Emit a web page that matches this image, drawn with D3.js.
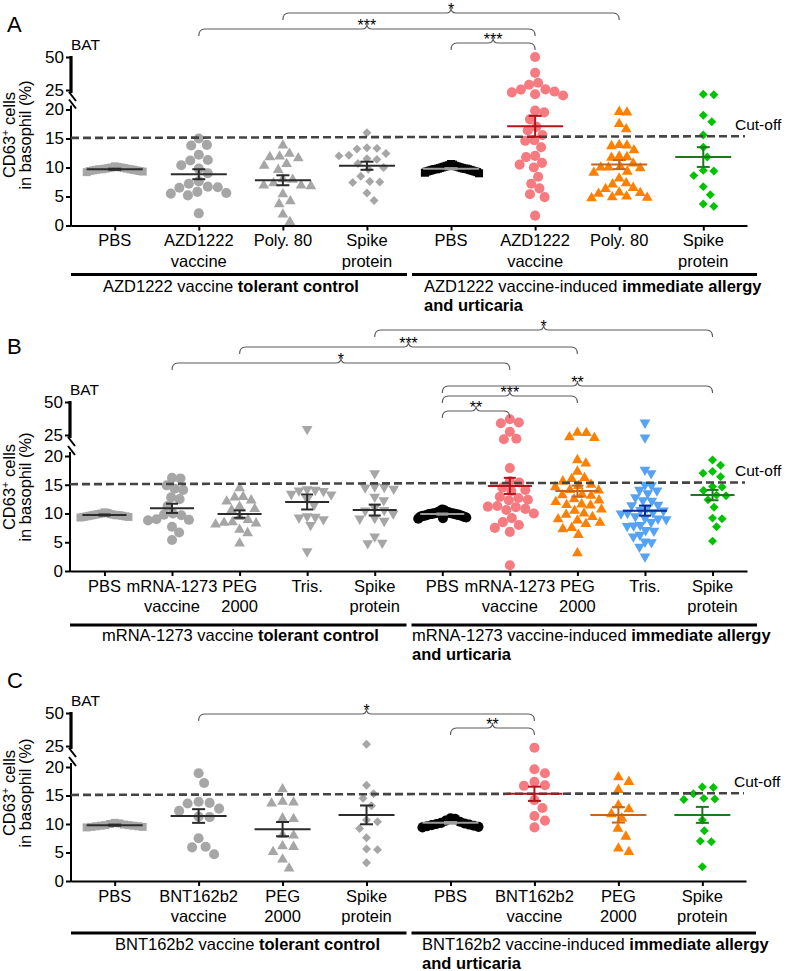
<!DOCTYPE html>
<html><head><meta charset="utf-8">
<script src="https://cdn.jsdelivr.net/npm/d3@7"></script>
<style>body{margin:0;background:#fff}svg{display:block}</style>
</head><body><svg id="c" width="789" height="971"></svg>
<script>
// ---------------- DATA ----------------
const yTicksLow = [0, 5, 10, 15, 20];
const yTicksHigh = [25, 50];
const cutoff = [15.1, 15.4];

// Panel A
const catsA = ["PBS","AZD1222\nvaccine","Poly. 80","Spike\nprotein","PBS","AZD1222\nvaccine","Poly. 80","Spike\nprotein"];
const valsA = [
  [9.2,9.3,9.4,9.4,9.5,9.5,9.6,9.6,9.7,9.7,9.7,9.8,9.8,9.9,9.9,10.0,10.0,10.1,10.2],
  [15.0,13.9,13.8,12.2,11.3,11.2,10.4,9.8,9.0,7.6,7.2,6.7,6.6,6.5,5.8,5.6,5.5,5.2,2.1],
  [13.8,12.4,11.9,11.8,11.6,10.6,10.3,9.6,8.0,7.9,7.3,6.9,6.9,6.8,5.4,4.2,3.7,1.9,0.6],
  [16.0,13.4,13.3,13.2,12.4,12.1,12.0,11.5,11.4,10.7,10.0,9.7,8.5,7.6,7.5,7.4,5.6,4.3],
  [9.0,9.1,9.2,9.3,9.3,9.4,9.4,9.5,9.5,9.6,9.6,9.7,9.7,9.7,9.8,9.8,9.8,9.9,9.9,10.0,10.0,10.1,10.1,10.2,10.2,10.3,10.3,10.4,10.5,10.6],
  [50,38,30.5,29,25.5,25.3,24.6,24.4,23.9,23.6,19.8,19.5,18.3,17.0,16.4,15.6,14.7,14.6,13.5,12.0,11.8,10.8,10.5,10.0,8.4,7.2,6.4,5.4,4.9,1.7],
  [19.6,19.5,17.5,16.6,13.9,13.8,13.7,13.0,11.9,11.8,11.7,10.7,10.1,10.0,10.0,9.9,9.3,9.1,8.1,7.3,7.1,6.5,6.3,5.7,5.6,5.5,5.0,4.9,4.8,4.7],
  [23.9,23.8,19.0,17.9,15.6,13.5,11.8,9.5,9.4,8.6,6.7,5.3,3.7,3.3]
];
const meansA = [9.7, 8.84, 7.8, 10.3, 9.8, 17.1, 10.5, 11.8];
const semsA  = [0.1, 0.86, 0.86, 0.7, 0.1, 1.8, 0.78, 1.7];
const sigA = [[4,5,"***"],[1,5,"***"],[2,6,"*"]];

// Panel B
const catsB = ["PBS","mRNA-1273\nvaccine","PEG\n2000","Tris.","Spike\nprotein","PBS","mRNA-1273\nvaccine","PEG\n2000","Tris.","Spike\nprotein"];
const valsB = [
  [9.3,9.4,9.4,9.5,9.5,9.6,9.6,9.7,9.7,9.7,9.8,9.8,9.9,9.9,10.0,10.1,10.2],
  [16.2,16.1,14.9,14.3,14.1,12.8,12.5,11.3,10.0,9.8,9.7,9.0,8.9,8.8,7.7,6.7,5.4],
  [14.4,12.9,12.8,12.3,12.1,11.2,10.8,10.6,9.4,8.9,8.5,8.4,8.3,8.1,7.2,6.6,4.8],
  [29.5,14.2,14.1,14.0,13.9,13.4,13.3,12.5,11.5,9.5,9.4,9.3,9.0,8.0,3.4],
  [17.0,14.7,14.6,14.5,14.3,12.9,12.3,11.0,10.6,10.5,10.0,9.2,9.1,8.7,6.0,4.9,4.8],
  [9.1,9.2,9.3,9.4,9.4,9.5,9.5,9.6,9.6,9.7,9.7,9.8,9.8,9.8,9.9,9.9,10.0,10.0,10.0,10.1,10.1,10.2,10.2,10.3,10.3,10.4,10.5,10.6,10.7,9.6,9.9,10.0],
  [36.9,34.5,33.9,27.5,24.1,24.0,17.9,15.6,15.4,14.5,14.1,13.9,12.9,12.7,12.4,12.3,11.3,11.2,11.1,10.8,10.6,10.0,9.2,8.5,8.0,7.5,6.8,1.0],
  [26.8,26.6,24.5,24.3,19.3,18.7,17.3,16.2,16.0,15.6,15.0,14.8,14.6,14.1,14.0,13.3,13.2,13.1,12.5,12.3,12.0,11.6,11.5,11.4,10.7,10.5,10.0,9.8,9.4,9.0,8.8,8.4,8.2,7.5,7.3,6.3,3.1],
  [34.3,24.4,17.6,17.0,15.0,14.9,14.1,14.0,13.5,12.8,12.3,12.2,11.5,11.4,11.0,10.6,10.5,10.2,10.1,10.0,9.5,9.2,9.1,9.0,8.5,8.0,7.9,7.8,7.1,7.0,6.3,6.0,5.1,5.0,4.2,2.5],
  [19.3,18.4,17.3,17.0,16.4,14.7,14.6,14.0,13.2,13.1,12.4,11.1,9.2,9.1,7.7,5.2]
];
const meansB = [9.74, 10.9, 9.9, 12.0, 10.6, 9.9, 14.8, 13.9, 10.5, 13.2];
const semsB  = [0.1, 0.8, 0.64, 1.3, 0.95, 0.1, 1.4, 0.95, 0.87, 0.9];
const sigB = [[5,6,"**"],[5,7,"***"],[5,9,"**"],[1,6,"*"],[2,7,"***"],[4,9,"*"]];

// Panel C
const catsC = ["PBS","BNT162b2\nvaccine","PEG\n2000","Spike\nprotein","PBS","BNT162b2\nvaccine","PEG\n2000","Spike\nprotein"];
const valsC = [
  [9.4,9.5,9.5,9.6,9.6,9.7,9.7,9.8,9.8,9.9,10.0,10.1,10.2],
  [18.9,17.2,13.9,13.7,13.6,12.7,12.3,11.3,11.2,7.5,6.0,5.9,4.7],
  [16.1,13.9,13.8,13.6,11.0,10.9,8.1,8.0,6.1,6.0,5.1,3.8,2.2],
  [26.3,16.8,15.3,14.5,13.2,10.7,10.4,9.2,7.6,5.6,5.5,3.2],
  [9.5,9.6,9.7,9.8,9.9,10.0,10.1,10.2,10.4,10.6,10.9,11.0,9.4],
  [24.6,19.6,18.9,17.4,16.8,16.7,14.2,12.8,11.4,10.6,9.4],
  [18.2,17.4,16.0,13.3,12.6,11.75,11.0,9.2,7.8,5.7,5.1],
  [16.5,16.4,15.3,14.5,14.4,14.3,10.7,8.8,7.0,6.9,2.5]
];
const meansC = [9.8, 11.4, 9.1, 11.6, 10.2, 15.3, 11.6, 11.6];
const semsC  = [0.1, 1.2, 1.25, 1.65, 0.15, 1.25, 1.35, 1.4];
const sigC = [[1,5,"*"],[4,5,"**"]];

const groupTexts = {
  A: ["AZD1222 vaccine ", "tolerant control", "AZD1222 vaccine-induced ", "immediate allergy", "and urticaria"],
  B: ["mRNA-1273 vaccine ", "tolerant control", "mRNA-1273 vaccine-induced ", "immediate allergy", "and urticaria"],
  C: ["BNT162b2 vaccine ", "tolerant control", "BNT162b2 vaccine-induced ", "immediate allergy", "and urticaria"]
};

// ---------------- STYLE / LAYOUT ----------------
const FONT = "Arial, 'Liberation Sans', Helvetica, sans-serif";
const GRAY = "#a6a6a6", DARK = "#2b2b2b", PINK = "#f57b80", ORANGE = "#ff8000",
      GREEN = "#00c400", BLUE = "#55a3f2", BLACK = "#000";
const DRED = "#b3141b", DORANGE = "#c4651c", DGREEN = "#1c7a1c", NAVY = "#0c2a8f", PBSBAR = "#9c9c9c";

const panels = [
  {letter:"A", cats:catsA, vals:valsA, means:meansA, sems:semsA, sig:sigA, txt:groupTexts.A,
   markers:["square","circle","triangle","diamond","square","circle","triangle","diamond"],
   fills:[GRAY,GRAY,GRAY,GRAY,BLACK,PINK,ORANGE,GREEN],
   bars:[DARK,DARK,DARK,DARK,PBSBAR,DRED,DORANGE,DGREEN],
   rows:[43,29,13], x0:71, x1:747, pad:0.52, y0:225.5, y20:109.5, y25:90, y50:57,
   letterY:32, titleY:135, lineY:274.5, leftTX:103, rightTX:424, textY:292, half:28, cap:6.5, maxHalf:28, diam:10.5},
  {letter:"B", cats:catsB, vals:valsB, means:meansB, sems:semsB, sig:sigB, txt:groupTexts.B,
   markers:["square","circle","triangle","triangleDown","triangleDown","circle","circle","triangle","triangleDown","diamond"],
   fills:[GRAY,GRAY,GRAY,GRAY,GRAY,BLACK,PINK,ORANGE,BLUE,GREEN],
   bars:[DARK,DARK,DARK,DARK,DARK,PBSBAR,DRED,DORANGE,NAVY,DGREEN],
   rows:[411,396,386,363,347,330], x0:70, x1:747, pad:0.51, y0:571, y20:456, y25:435, y50:402,
   letterY:354, titleY:487, lineY:625, leftTX:102, rightTX:412, textY:641, half:22, cap:6, maxHalf:24, diam:9.5},
  {letter:"C", cats:catsC, vals:valsC, means:meansC, sems:semsC, sig:sigC, txt:groupTexts.C,
   markers:["square","circle","triangle","diamond","circle","circle","triangle","diamond"],
   fills:[GRAY,GRAY,GRAY,GRAY,BLACK,PINK,ORANGE,GREEN],
   bars:[DARK,DARK,DARK,DARK,PBSBAR,DRED,DORANGE,DGREEN],
   rows:[714,728], x0:71, x1:746, pad:0.52, y0:881, y20:767, y25:746, y50:713,
   letterY:688, titleY:793, lineY:933, leftTX:115, rightTX:422, textY:950, half:28, cap:6.5, maxHalf:28, diam:11}
];

const symbolFor = {
  circle: d3.symbol(d3.symbolCircle, 80)(),
  square: d3.symbol(d3.symbolSquare, 64)(),
  triangle: d3.symbol(d3.symbolTriangle, 50)(),
  triangleDown: d3.symbol(d3.symbolTriangle, 50)(),
  diamond: d3.symbol(d3.symbolSquare, 40)()
};
const rotFor = {circle:0, square:0, triangle:0, triangleDown:180, diamond:45};

function swarm(values, y, diam, maxHalf) {
  const pts = values.map(v => ({v, y: y(v), x: 0}));
  const order = pts.slice().sort((a, b) => a.y - b.y);
  const placed = [];
  for (const p of order) {
    let off = 0;
    for (let k = 0; k < 2000; k++) {
      const o = k === 0 ? 0 : ((k % 2 === 1) ? 1 : -1) * Math.ceil(k / 2) * 0.5;
      const ok = placed.every(q => { const dx = q.x - o, dy = q.y - p.y; return dx*dx + dy*dy >= diam*diam; });
      if (ok) { off = o; break; }
    }
    p.x = off; placed.push(p);
  }
  const m = d3.max(pts, p => Math.abs(p.x)) || 0;
  if (m > maxHalf) { const s = maxHalf / m; pts.forEach(p => p.x *= s); }
  return pts;
}

const svg = d3.select("#c").style("font-family", FONT);

panels.forEach(P => {
  const g = svg.append("g");
  const n = P.cats.length;
  const x = d3.scalePoint().domain(d3.range(n)).range([P.x0, P.x1]).padding(P.pad);
  const y = d3.scaleLinear().domain([0, 20, 25, 50]).range([P.y0, P.y20, P.y25, P.y50]);
  const yLow = d3.scaleLinear().domain([0, 20]).range([P.y0, P.y20]);
  const yHigh = d3.scaleLinear().domain([25, 50]).range([P.y25, P.y50]);

  g.append("text").attr("x", 7).attr("y", P.letterY).attr("font-size", 22).text(P.letter);
  g.append("text").attr("x", P.x0).attr("y", P.y50 - 7).attr("font-size", 15.5).text("BAT");

  const axL = g.append("g").attr("transform", `translate(${P.x0},0)`)
    .call(d3.axisLeft(yLow).tickValues(yTicksLow).tickSize(5).tickSizeOuter(0));
  axL.select(".domain").remove();
  axL.selectAll(".tick line").attr("stroke", "#000").attr("stroke-width", 2);
  axL.selectAll(".tick text").attr("x", -7).attr("font-size", 17).attr("font-family", FONT).attr("fill", "#000");
  g.append("line").attr("x1", P.x0).attr("x2", P.x0).attr("y1", P.y0 + 1).attr("y2", P.y20 - 4)
    .attr("stroke", "#000").attr("stroke-width", 2);
  const axH = g.append("g").attr("transform", `translate(${P.x0},0)`)
    .call(d3.axisLeft(yHigh).tickValues(yTicksHigh).tickSize(5).tickSizeOuter(0));
  axH.select(".domain").remove();
  axH.selectAll(".tick line").attr("stroke", "#000").attr("stroke-width", 2);
  axH.selectAll(".tick text").attr("x", -7).attr("font-size", 17).attr("font-family", FONT).attr("fill", "#000");
  g.append("line").attr("x1", P.x0).attr("x2", P.x0).attr("y1", P.y50 - 1).attr("y2", P.y25 + 3)
    .attr("stroke", "#000").attr("stroke-width", 3.2);
  [[P.y25 + 2, P.y25 + 11], [P.y20 - 10, P.y20 - 1]].forEach(([a, b]) => {
    g.append("line").attr("x1", P.x0 - 2).attr("y1", a).attr("x2", P.x0 + 5).attr("y2", b)
      .attr("stroke", "#000").attr("stroke-width", 2);
  });

  const t1 = g.append("text").attr("transform", `translate(15,${P.titleY}) rotate(-90)`)
    .attr("text-anchor", "middle").attr("font-size", 16.5);
  t1.append("tspan").text("CD63");
  t1.append("tspan").attr("dy", -6).attr("font-size", 11).text("+");
  t1.append("tspan").attr("dy", 6).text(" cells");
  g.append("text").attr("transform", `translate(31,${P.titleY}) rotate(-90)`)
    .attr("text-anchor", "middle").attr("font-size", 16.5).text("in basophil (%)");

  const axX = g.append("g").attr("transform", `translate(0,${P.y0})`)
    .call(d3.axisBottom(x).tickSize(5).tickSizeOuter(0).tickFormat(""));
  axX.select(".domain").attr("stroke", "#000").attr("stroke-width", 2);
  axX.selectAll(".tick line").attr("stroke", "#000").attr("stroke-width", 2);

  P.cats.forEach((c, i) => {
    const t = g.append("text").attr("text-anchor", "middle").attr("font-size", 16.5);
    c.split("\n").forEach((l, j) => t.append("tspan").attr("x", x(i)).attr("y", P.y0 + 20.5 + j * 20.5).text(l));
  });

  P.vals.forEach((vals, i) => {
    const pts = swarm(vals, y, P.diam, P.maxHalf);
    const mk = P.markers[i];
    g.append("g").selectAll("path").data(pts).join("path")
      .attr("d", symbolFor[mk])
      .attr("transform", d => `translate(${x(i) + d.x},${d.y}) rotate(${rotFor[mk]})`)
      .attr("fill", P.fills[i]);
  });

  g.append("line").attr("x1", P.x0).attr("x2", P.x1 - 2)
    .attr("y1", y(cutoff[0])).attr("y2", y(cutoff[1]))
    .attr("stroke", "#444").attr("stroke-width", 2.6).attr("stroke-dasharray", "8,4");
  g.append("text").attr("x", P.x1 - 12).attr("y", y(cutoff[1]) - 6).attr("font-size", 15.5).text("Cut-off");

  P.means.forEach((m, i) => {
    const cx = x(i), c = P.bars[i];
    const gg = g.append("g").attr("stroke", c).attr("stroke-width", 2).attr("fill", "none");
    gg.append("line").attr("x1", cx - P.half).attr("x2", cx + P.half).attr("y1", y(m)).attr("y2", y(m));
    const s = P.sems[i];
    gg.append("line").attr("x1", cx).attr("x2", cx).attr("y1", y(m - s)).attr("y2", y(m + s));
    [m - s, m + s].forEach(v => gg.append("line").attr("x1", cx - P.cap).attr("x2", cx + P.cap).attr("y1", y(v)).attr("y2", y(v)));
  });

  P.sig.forEach(([a, b, lab], k) => {
    const x1 = x(a), x2 = x(b), xm = (x1 + x2) / 2, yy = P.rows[k];
    const p = d3.path();
    p.moveTo(x1, yy + 7);
    p.quadraticCurveTo(x1, yy, x1 + 6, yy);
    p.lineTo(xm - 5, yy);
    p.quadraticCurveTo(xm, yy, xm, yy - 5);
    p.quadraticCurveTo(xm, yy, xm + 5, yy);
    p.lineTo(x2 - 6, yy);
    p.quadraticCurveTo(x2, yy, x2, yy + 7);
    g.append("path").attr("d", p.toString()).attr("fill", "none").attr("stroke", "#5a5a5a").attr("stroke-width", 1.1);
    g.append("text").attr("x", xm).attr("y", yy + 2).attr("text-anchor", "middle").attr("font-size", 16).text(lab);
  });

  const mid = (x(n / 2 - 1) + x(n / 2)) / 2;
  g.append("line").attr("x1", P.x0).attr("x2", mid - 2).attr("y1", P.lineY).attr("y2", P.lineY)
    .attr("stroke", "#000").attr("stroke-width", 3);
  g.append("line").attr("x1", mid + 3).attr("x2", P.x1 + 10).attr("y1", P.lineY).attr("y2", P.lineY)
    .attr("stroke", "#000").attr("stroke-width", 3);
  const lt = g.append("text").attr("x", P.leftTX).attr("y", P.textY).attr("font-size", 16.5);
  lt.append("tspan").text(P.txt[0]);
  lt.append("tspan").attr("font-weight", "bold").text(P.txt[1]);
  const rt = g.append("text").attr("x", P.rightTX).attr("y", P.textY).attr("font-size", 16.5);
  rt.append("tspan").text(P.txt[2]);
  rt.append("tspan").attr("font-weight", "bold").text(P.txt[3]);
  g.append("text").attr("x", P.rightTX).attr("y", P.textY + 19).attr("font-size", 16.5)
    .attr("font-weight", "bold").text(P.txt[4]);
});
</script>
</body></html>
